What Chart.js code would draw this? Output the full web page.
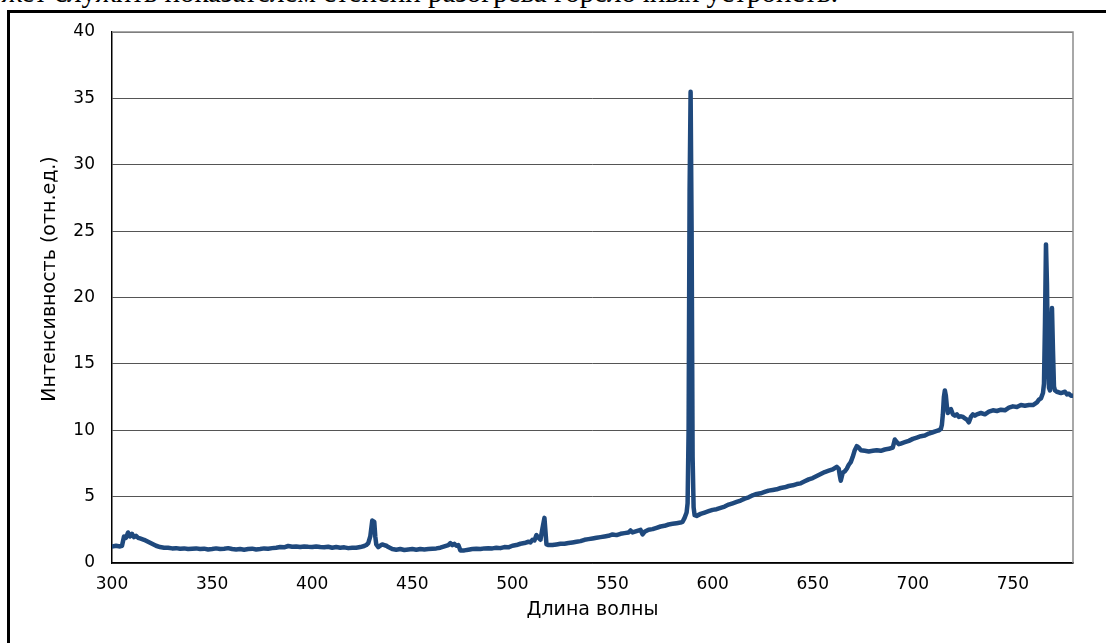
<!DOCTYPE html>
<html><head><meta charset="utf-8">
<script src="https://cdn.jsdelivr.net/npm/chart.js@4.4.0/dist/chart.umd.min.js"></script>
<style>
html,body{margin:0;padding:0;background:#fff;overflow:hidden}
#wrap{position:relative;width:1106px;height:643px;overflow:hidden;background:#fff}
#doc{position:absolute;right:268px;top:-22px;font-family:"Liberation Serif",serif;font-size:29px;line-height:29px;white-space:nowrap;color:#000}
#frame{position:absolute;left:7px;top:10px;width:1200px;height:700px;border-left:3px solid #000;border-top:3px solid #000}
canvas{position:absolute;left:0;top:0}
</style></head><body>
<div id="wrap">
<div id="doc">может служить показателем степени разогрева горелочных устройств.</div>
<div id="frame"></div>
<canvas id="c" width="1106" height="643"></canvas>
</div>
<script>
const wavelength = [300,302,304,305,306,307,308,309,310,311,312,313,314,316,318,320,322,324,326,328,330,332,334,336,338,340,342,344,346,348,350,352,354,356,358,360,362,364,366,368,370,372,374,376,378,380,382,384,386,388,390,392,394,396,398,400,402,404,406,408,410,412,414,416,418,420,422,424,426,427,428,429,430,431,431.5,432,433,434,435,436,437,438,440,442,444,446,448,450,452,454,456,458,460,462,464,466,468,469,470,471,472,473,474,476,478,480,482,484,486,488,490,492,494,496,498,500,502,504,506,508,509,510,511,512,513,514,515,516,516.6,517,518,520,522,524,526,528,530,532,534,536,538,540,542,544,546,548,550,552,554,556,558,559,560,562,564,565,566,568,570,572,574,576,578,580,582,584,585,586,587,587.5,588,588.5,589,589.5,590,590.5,591,592,594,596,598,600,602,604,606,608,610,612,614,616,618,620,622,624,626,628,630,632,634,636,638,640,642,644,646,648,650,652,654,656,658,660,661,662,663,663.5,664,665,666,667,668,669,670,671,672,673,674,676,678,680,682,684,686,688,690,691,692,693,694,696,698,700,702,704,706,708,710,712,713,714,714.5,715,715.5,716,716.5,717,717.5,718,719,720,721,722,723,724,725,726,727,728,729,730,731,732,734,736,738,740,742,744,746,748,750,752,754,756,758,760,762,763,764,765,765.5,766,766.5,767,767.5,768,768.5,769,769.5,770,770.5,771,772,774,776,777,778,779,780];
const intensity = [1.25,1.3,1.25,1.3,2.0,1.9,2.3,2.0,2.2,1.95,2.05,1.9,1.85,1.75,1.6,1.45,1.3,1.2,1.15,1.15,1.1,1.12,1.08,1.1,1.05,1.08,1.1,1.05,1.08,1.02,1.05,1.1,1.05,1.08,1.12,1.05,1.02,1.05,1.0,1.05,1.08,1.02,1.05,1.1,1.08,1.12,1.15,1.2,1.18,1.28,1.22,1.25,1.2,1.25,1.22,1.2,1.25,1.2,1.18,1.22,1.15,1.2,1.15,1.18,1.12,1.15,1.15,1.2,1.28,1.35,1.5,2.0,3.2,3.1,2.0,1.4,1.2,1.3,1.4,1.35,1.3,1.2,1.05,1.0,1.05,0.98,1.02,1.05,1.0,1.05,1.02,1.05,1.08,1.1,1.15,1.25,1.35,1.5,1.35,1.45,1.3,1.35,0.95,0.95,1.0,1.05,1.08,1.05,1.1,1.12,1.1,1.15,1.12,1.2,1.18,1.3,1.35,1.45,1.5,1.6,1.55,1.75,1.7,2.1,1.9,1.75,2.6,3.4,2.2,1.4,1.35,1.35,1.4,1.45,1.45,1.5,1.55,1.6,1.65,1.75,1.8,1.85,1.9,1.95,2.0,2.05,2.15,2.1,2.2,2.25,2.3,2.45,2.3,2.4,2.5,2.15,2.35,2.5,2.55,2.65,2.75,2.8,2.9,2.95,3.0,3.05,3.1,3.4,3.8,4.5,10,28,35.5,25,8,4.2,3.6,3.55,3.7,3.8,3.9,4.0,4.05,4.15,4.25,4.4,4.5,4.6,4.7,4.85,4.95,5.1,5.2,5.25,5.35,5.45,5.5,5.55,5.65,5.7,5.8,5.85,5.95,6.0,6.15,6.3,6.4,6.55,6.7,6.85,6.95,7.05,7.15,7.25,7.1,6.6,6.2,6.8,6.9,7.1,7.4,7.6,8.0,8.5,8.8,8.7,8.5,8.45,8.4,8.45,8.5,8.45,8.55,8.6,8.7,9.3,9.1,8.95,9.0,9.1,9.2,9.35,9.45,9.55,9.6,9.75,9.85,9.95,10.0,10.1,10.4,11.2,12.5,13.0,12.6,11.8,11.3,11.5,11.6,11.2,11.1,11.2,11.0,11.05,11.0,10.9,10.8,10.6,11.0,11.2,11.1,11.2,11.3,11.2,11.4,11.5,11.45,11.55,11.5,11.7,11.8,11.75,11.9,11.85,11.9,11.9,12.1,12.3,12.4,12.8,13.5,18,24.0,21,15,13.2,13.0,17,19.2,16,13.3,13.0,12.9,12.8,12.9,12.7,12.75,12.6,12.6];
const xTickValues = [300,350,400,450,500,550,600,650,700,750];
const yTickValues = [0,5,10,15,20,25,30,35,40];
const xTitle = 'Длина волны';
const yTitle = 'Интенсивность (отн.ед.)';

const points = wavelength.map((w, i) => ({x: w, y: intensity[i]}));
const tickFont = {family: 'DejaVu Sans', size: 17};
const titleFont = {family: 'DejaVu Sans', size: 19};

const plotBorder = {
  id: 'plotBorder',
  beforeDatasetsDraw(chart) {
    const {ctx, chartArea: a} = chart;
    ctx.save();
    ctx.strokeStyle = '#8c8c8c';
    ctx.lineWidth = 1.5;
    ctx.beginPath();
    ctx.moveTo(a.left, a.top);
    ctx.lineTo(a.right, a.top);
    ctx.lineTo(a.right, a.bottom);
    ctx.stroke();
    ctx.restore();
  },
  afterDraw(chart) {
    const ctx = chart.ctx;
    ctx.save();
    ctx.translate(50, 279);
    ctx.rotate(-Math.PI / 2);
    ctx.font = titleFont.size + 'px "' + titleFont.family + '"';
    ctx.fillStyle = '#000';
    ctx.textAlign = 'center';
    ctx.textBaseline = 'middle';
    ctx.fillText(yTitle, 0, 0);
    ctx.restore();
  }
};

new Chart(document.getElementById('c'), {
  type: 'line',
  data: {
    datasets: [{
      data: points,
      borderColor: '#1F497D',
      borderWidth: 4.5,
      pointRadius: 0,
      tension: 0,
      fill: false,
      borderJoinStyle: 'round',
      borderCapStyle: 'round'
    }]
  },
  options: {
    responsive: false,
    animation: false,
    layout: {padding: {left: 0, right: 33, top: 32, bottom: 0}},
    plugins: {legend: {display: false}, tooltip: {enabled: false}},
    scales: {
      x: {
        type: 'linear', min: 300, max: 780,
        afterFit(s) { s.height = 80; },
        afterBuildTicks(s) { s.ticks = xTickValues.map(v => ({value: v})); },
        ticks: {color: '#000', font: tickFont, padding: 11, maxRotation: 0, autoSkip: false},
        grid: {display: false, drawTicks: false},
        border: {display: true, color: '#000', width: 1.5},
        title: {display: true, text: xTitle, color: '#000', font: titleFont, padding: {top: 0, bottom: 22}}
      },
      y: {
        type: 'linear', min: 0, max: 40,
        afterFit(s) { s.width = 112; },
        afterBuildTicks(s) { s.ticks = yTickValues.map(v => ({value: v})); },
        ticks: {color: '#000', font: tickFont, padding: 17},
        grid: {color: '#555', lineWidth: 1, drawTicks: false},
        border: {display: true, color: '#000', width: 1.5},
        title: {display: false, text: yTitle}
      }
    }
  },
  plugins: [plotBorder]
});
</script>
</body></html>
